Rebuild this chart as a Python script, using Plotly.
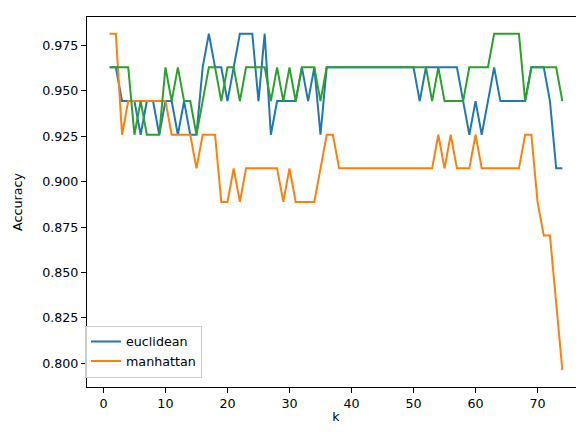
import plotly.graph_objects as go

k_values = list(range(1, 75))

euclidean = [
    0.9630, 0.9630, 0.9444, 0.9444, 0.9444, 0.9259, 0.9444, 0.9444, 0.9259, 0.9444,
    0.9444, 0.9259, 0.9444, 0.9259, 0.9259, 0.9630, 0.9815, 0.9630, 0.9630, 0.9444,
    0.9630, 0.9815, 0.9815, 0.9815, 0.9444, 0.9815, 0.9259, 0.9444, 0.9444, 0.9444,
    0.9444, 0.9630, 0.9444, 0.9630, 0.9259, 0.9630, 0.9630, 0.9630, 0.9630, 0.9630,
    0.9630, 0.9630, 0.9630, 0.9630, 0.9630, 0.9630, 0.9630, 0.9630, 0.9630, 0.9630,
    0.9444, 0.9630, 0.9630, 0.9630, 0.9630, 0.9630, 0.9630, 0.9444, 0.9259, 0.9444,
    0.9259, 0.9444, 0.9630, 0.9444, 0.9444, 0.9444, 0.9444, 0.9444, 0.9630, 0.9630,
    0.9630, 0.9444, 0.9074, 0.9074,
]

manhattan = [
    0.9815, 0.9815, 0.9259, 0.9444, 0.9444, 0.9444, 0.9444, 0.9444, 0.9444, 0.9444,
    0.9259, 0.9259, 0.9259, 0.9259, 0.9074, 0.9259, 0.9259, 0.9259, 0.8889, 0.8889,
    0.9074, 0.8889, 0.9074, 0.9074, 0.9074, 0.9074, 0.9074, 0.9074, 0.8889, 0.9074,
    0.8889, 0.8889, 0.8889, 0.8889, 0.9074, 0.9259, 0.9259, 0.9074, 0.9074, 0.9074,
    0.9074, 0.9074, 0.9074, 0.9074, 0.9074, 0.9074, 0.9074, 0.9074, 0.9074, 0.9074,
    0.9074, 0.9074, 0.9074, 0.9259, 0.9074, 0.9259, 0.9074, 0.9074, 0.9074, 0.9259,
    0.9074, 0.9074, 0.9074, 0.9074, 0.9074, 0.9074, 0.9074, 0.9259, 0.9259, 0.8889,
    0.8704, 0.8704, 0.8333, 0.7963,
]

third_metric = [
    0.9630, 0.9630, 0.9630, 0.9630, 0.9259, 0.9444, 0.9259, 0.9259, 0.9259, 0.9630,
    0.9444, 0.9630, 0.9444, 0.9444, 0.9259, 0.9444, 0.9630, 0.9630, 0.9444, 0.9630,
    0.9630, 0.9444, 0.9630, 0.9630, 0.9630, 0.9630, 0.9444, 0.9630, 0.9444, 0.9630,
    0.9444, 0.9630, 0.9630, 0.9630, 0.9444, 0.9630, 0.9630, 0.9630, 0.9630, 0.9630,
    0.9630, 0.9630, 0.9630, 0.9630, 0.9630, 0.9630, 0.9630, 0.9630, 0.9630, 0.9630,
    0.9630, 0.9630, 0.9444, 0.9630, 0.9444, 0.9444, 0.9444, 0.9444, 0.9630, 0.9630,
    0.9630, 0.9630, 0.9815, 0.9815, 0.9815, 0.9815, 0.9815, 0.9444, 0.9630, 0.9630,
    0.9630, 0.9630, 0.9630, 0.9444,
]

series_names = ["euclidean", "manhattan", ""]
x_ticks = [0, 10, 20, 30, 40, 50, 60, 70]
y_ticks = [0.800, 0.825, 0.850, 0.875, 0.900, 0.925, 0.950, 0.975]

font = dict(family="DejaVu Sans", size=12.7, color="black")

fig = go.Figure()
fig.add_trace(go.Scatter(x=k_values, y=euclidean, mode="lines", name=series_names[0],
                         line=dict(color="#1f77b4", width=2)))
fig.add_trace(go.Scatter(x=k_values, y=manhattan, mode="lines", name=series_names[1],
                         line=dict(color="#ff7f0e", width=2)))
fig.add_trace(go.Scatter(x=k_values, y=third_metric, mode="lines", name=series_names[2],
                         showlegend=False, line=dict(color="#2ca02c", width=2)))

axis_common = dict(showline=True, linecolor="black", linewidth=1, mirror=True,
                   ticks="outside", ticklen=5, tickwidth=1, tickcolor="black",
                   showgrid=False, zeroline=False, tickfont=font)

fig.update_xaxes(range=[-2.65, 77.65], tickvals=x_ticks,
                 title=dict(text="k", font=font, standoff=1), **axis_common)
fig.update_yaxes(range=[0.787, 0.9907], tickvals=y_ticks, tickformat=".3f",
                 title=dict(text="Accuracy", font=font, standoff=16), **axis_common)

fig.update_layout(
    width=584, height=432,
    margin=dict(l=79, r=7, t=9, b=53),
    plot_bgcolor="white", paper_bgcolor="white",
    font=font,
    legend=dict(x=-0.004, y=0.025, xanchor="left", yanchor="bottom",
                bgcolor="rgba(255,255,255,0.8)", bordercolor="#cccccc", borderwidth=1,
                font=font, tracegroupgap=0),
)

fig.write_html("out.html")
